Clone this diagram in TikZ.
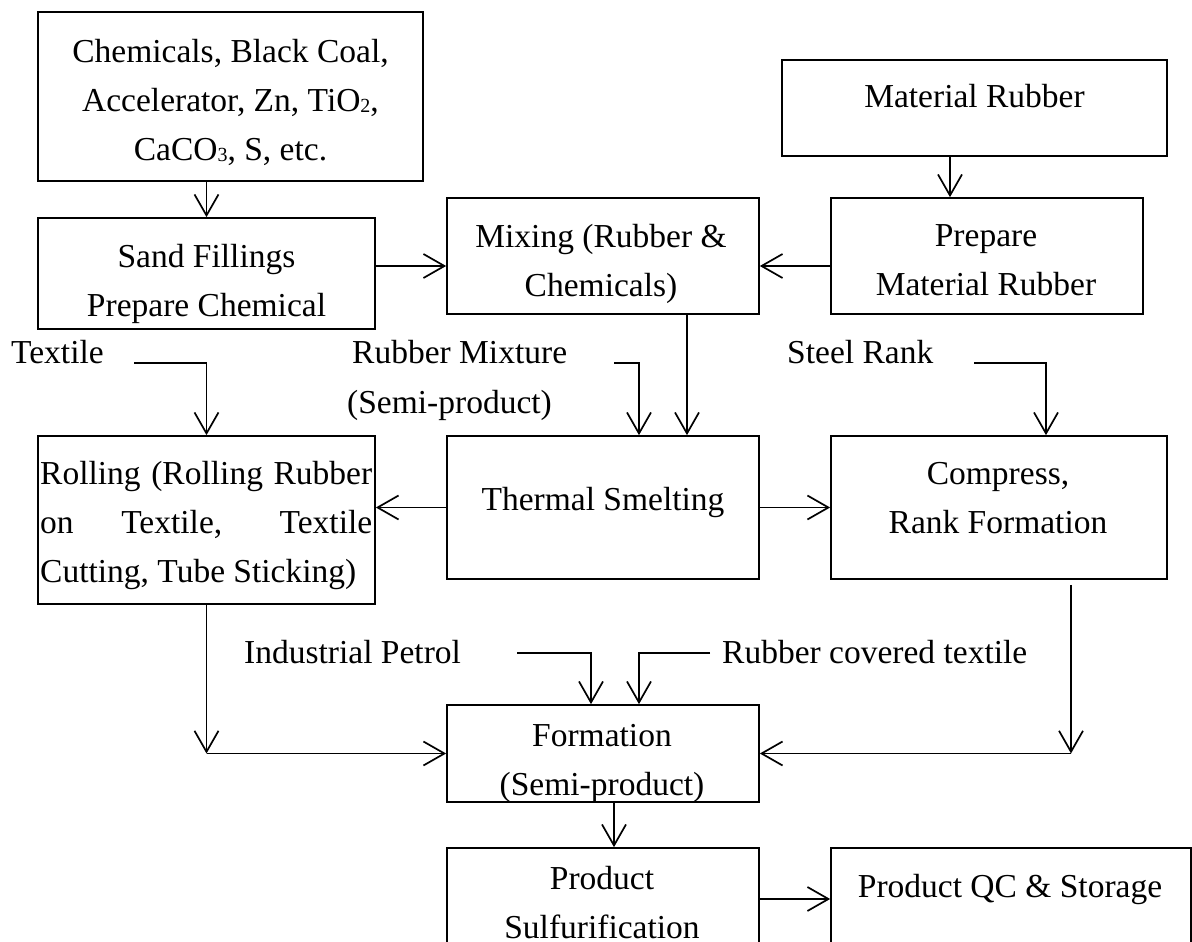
\documentclass[tikz,border=0pt]{standalone}
\usepackage{fontspec}
\setmainfont{Liberation Serif}
\usetikzlibrary{arrows.meta}
% small index digit that sits on the baseline
\newcommand\chemidx[1]{\raisebox{-1pt}{\fontsize{20}{20}\selectfont #1}}
\begin{document}
\begin{tikzpicture}[x=1pt,y=-1pt,
  box/.style={draw, line width=1.7pt, rectangle, inner sep=0pt},
  lbl/.style={inner sep=0pt, anchor=base, align=center, font=\fontsize{33.5}{49}\selectfont},
  lbll/.style={lbl, anchor=base west, align=left},
  arr/.style={line width=1.7pt, -{Straight Barb[length=21pt,width=24pt]}},
]
\useasboundingbox (0,0) rectangle (1192,942);
\clip (0,0) rectangle (1192,942);

% process boxes
\node[box, minimum width=385pt, minimum height=169pt] (chem) at (230.5,96.5) {};
\node[box, minimum width=385pt, minimum height=96pt]  (mat)  at (974.5,108) {};
\node[box, minimum width=337pt, minimum height=111pt] (sand) at (206.5,273.5) {};
\node[box, minimum width=312pt, minimum height=116pt] (mix)  at (603,256) {};
\node[box, minimum width=312pt, minimum height=116pt] (prep) at (987,256) {};
\node[box, minimum width=337pt, minimum height=168pt] (roll) at (206.5,520) {};
\node[box, minimum width=312pt, minimum height=143pt] (therm) at (603,507.5) {};
\node[box, minimum width=336pt, minimum height=143pt] (comp) at (999,507.5) {};
\node[box, minimum width=312pt, minimum height=97pt]  (form) at (603,753.5) {};
\node[box, minimum width=312pt, minimum height=112pt] (prod) at (603,904) {};
\node[box, minimum width=360pt, minimum height=112pt] (qc)   at (1011,904) {};

% box texts (multi-line nodes sit on the baseline of their last line)
\node[lbl] (chemtxt) at (230.5,160) {Chemicals, Black Coal,\\Accelerator, Zn, TiO\chemidx{2},\\CaCO\chemidx{3}, S, etc.};
\node[lbl] (mattxt) at (974.5,107) {Material Rubber};
\node[lbl] (sandtxt) at (206.5,316) {Sand Fillings\\Prepare Chemical};
\node[lbl] (mixtxt) at (601,296) {Mixing (Rubber \&\\Chemicals)};
\node[lbl] (preptxt) at (986,295) {Prepare\\Material Rubber};
\node[lbll] (rolltxt) at (40,582) {\makebox[332pt][s]{Rolling (Rolling Rubber}\\\makebox[332pt][s]{on Textile, Textile}\\Cutting, Tube Sticking)};
\node[lbl] (thermtxt) at (603,510) {Thermal Smelting};
\node[lbl] (comptxt) at (998,533) {Compress,\\Rank Formation};
\node[lbl] (formtxt) at (602,795) {Formation\\(Semi-product)};
\node[lbl] (prodtxt) at (602,938) {Product\\Sulfurification};
\node[lbl] (qctxt) at (1010,897) {Product QC \& Storage};

% input labels
\node[lbll] (textile) at (11,363) {Textile};
\node[lbll] (rubmix) at (352,363) {Rubber Mixture};
\node[lbll] (semi) at (347,413) {(Semi-product)};
\node[lbll] (steel) at (787,363) {Steel Rank};
\node[lbll] (petrol) at (244,663) {Industrial Petrol};
\node[lbll] (rctext) at (722,663) {Rubber covered textile};

% free ends of the input lines
\coordinate (txtend) at (134,363);
\coordinate (rmend) at (614,363);
\coordinate (stend) at (974,363);
\coordinate (petend) at (517,653);
\coordinate (rctend) at (710,653);
\coordinate (lcorner) at (roll.south |- form.west);
\coordinate (rcorner) at ([xshift=72pt]comp.south |- form.east);

% connectors
\draw[arr] (chem.south -| sand.north) -- (sand.north);
\draw[arr] ([xshift=-24.5pt]mat.south) -- ([xshift=-24.5pt]mat.south |- prep.north);
\draw[arr] ([yshift=7.5pt]sand.east) -- ([yshift=7.5pt]sand.east -| mix.west);
\draw[arr] ([yshift=-10pt]prep.west) -- ([yshift=-10pt]prep.west -| mix.east);
\draw[arr] ([xshift=84pt]mix.south) -- ([xshift=84pt]mix.south |- therm.north);
\draw[arr] (txtend) -| (roll.north);
\draw[arr] (rmend) -| ([xshift=36pt]therm.north);
\draw[arr] (stend) -| ([xshift=47pt]comp.north);
\draw[arr] (therm.west) -- (roll.east |- therm.west);
\draw[arr] (therm.east) -- (comp.west |- therm.east);
\draw[arr] (roll.south) -- (lcorner);
\draw[arr] (lcorner) -- (form.west);
\draw[arr] ([xshift=72pt,yshift=-5pt]comp.south) -- (rcorner);
\draw[arr] (rcorner) -- (form.east);
\draw[arr] (petend) -| ([xshift=-12pt]form.north);
\draw[arr] (rctend) -| ([xshift=36pt]form.north);
\draw[arr] ([xshift=11pt]form.south) -- ([xshift=11pt]form.south |- prod.north);
\draw[arr] ([yshift=5pt]prod.east) -- ([yshift=5pt]prod.east -| qc.west);
\end{tikzpicture}
\end{document}
